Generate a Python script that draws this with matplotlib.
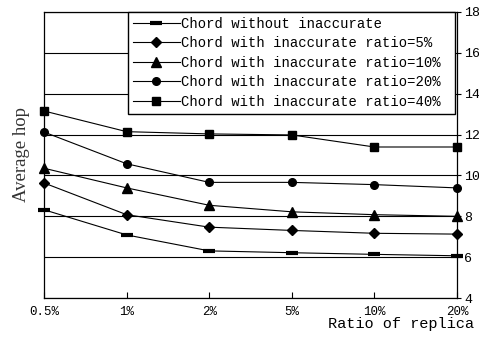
import matplotlib
matplotlib.use("Agg")
import matplotlib.pyplot as plt
import numpy as np

# ratio of replica (categorical x axis)
ratios = ["0.5%", "1%", "2%", "5%", "10%", "20%"]

# average hop for each series
hop_none = [8.32, 7.09, 6.31, 6.22, 6.14, 6.07]
hop_5 = [9.63, 8.08, 7.47, 7.31, 7.17, 7.13]
hop_10 = [10.35, 9.39, 8.54, 8.22, 8.08, 8.00]
hop_20 = [12.12, 10.57, 9.66, 9.66, 9.55, 9.39]
hop_40 = [13.15, 12.14, 12.03, 11.98, 11.39, 11.39]

labels = [
    "Chord without inaccurate",
    "Chord with inaccurate ratio=5%",
    "Chord with inaccurate ratio=10%",
    "Chord with inaccurate ratio=20%",
    "Chord with inaccurate ratio=40%",
]
yticks = [4, 6, 8, 10, 12, 14, 16, 18]

MONO = "Liberation Mono"

fig = plt.figure(figsize=(4.79, 3.38), dpi=100)
ax = fig.add_axes([0.092, 0.118, 0.862, 0.847])

x = np.arange(len(ratios))
series = [hop_none, hop_5, hop_10, hop_20, hop_40]
markers = [("_", 8, 3.0), ("D", 5, 1), ("^", 6.5, 1), ("o", 5.5, 1), ("s", 6, 1)]

for ys, lab, (m, ms, mew) in zip(series, labels, markers):
    ax.plot(x, ys, color="black", lw=0.8, marker=m, markersize=ms,
            markeredgewidth=mew, markerfacecolor="black",
            markeredgecolor="black", label=lab, clip_on=False, zorder=3)

ax.set_xlim(0, len(ratios) - 1)
ax.set_ylim(4, 18)
ax.set_xticks(x)
ax.set_xticklabels(ratios, fontfamily=MONO, fontsize=9)
ax.set_yticks(yticks)
ax.yaxis.tick_right()
ax.set_yticklabels([str(v) for v in yticks], fontfamily=MONO, fontsize=9.5)
ax.tick_params(axis="x", direction="in", length=4, width=0.8, pad=6)
ax.tick_params(axis="y", direction="out", length=3, width=0.8, pad=2)

ax.yaxis.grid(True, color="black", lw=0.8)
ax.set_axisbelow(True)
for sp in ax.spines.values():
    sp.set_linewidth(0.9)

ax.set_ylabel("Average hop", fontfamily="Liberation Serif", fontsize=13.5,
              color="#333333", labelpad=10)
fig.text(0.99, 0.04, "Ratio of replica", ha="right", va="center",
         fontfamily=MONO, fontsize=11)

leg = ax.legend(loc="upper left", bbox_to_anchor=(0.203, 0.99, 0.792, 0.01),
                mode="expand", borderaxespad=0,
                prop={"family": MONO, "size": 10},
                frameon=True, fancybox=False, edgecolor="black",
                framealpha=1, handlelength=3.4, handletextpad=0.1,
                labelspacing=0.4, borderpad=0.35)
leg.get_frame().set_linewidth(1.0)

fig.savefig("out.png", dpi=100)
